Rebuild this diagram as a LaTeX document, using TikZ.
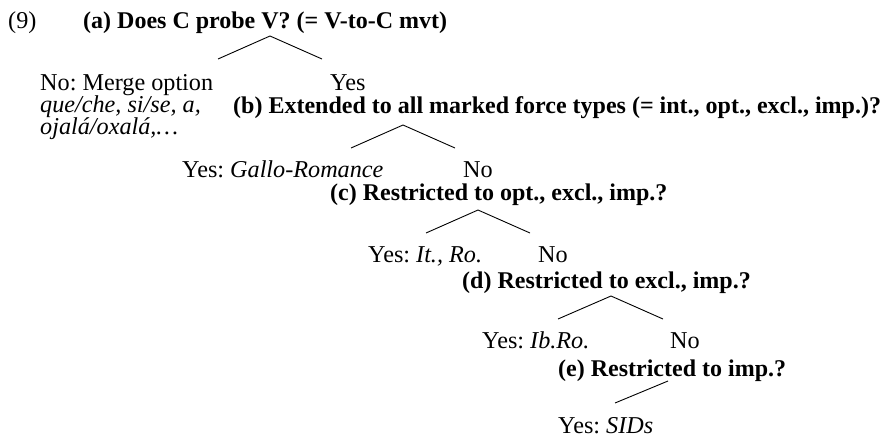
\documentclass[tikz,border=0pt]{standalone}
\usepackage{fontspec}
\setmainfont{Liberation Serif}
\frenchspacing
\begin{document}
\begin{tikzpicture}[x=1pt,y=-1pt,
  txt/.style={anchor=base west,inner sep=0pt,font=\fontsize{24.2}{22}\selectfont\frenchspacing},
  qtxt/.style={anchor=base west,inner sep=0pt,font=\fontsize{24}{22}\selectfont\bfseries\frenchspacing},
  branch/.style={line width=0.9pt}]
\useasboundingbox (0,0) rectangle (885,437);
% texts
\node[txt]  (ex)   at (8,28)    {(9)};
\node[qtxt] (qa)   at (83,28)   {(a) Does C probe V? (= V-to-C mvt)};
\node[txt]  (noA)  at (40,90.5) {No: Merge option};
\node[txt]  (noA2) at (40,112.5) {\itshape que/che, si/se, a,};
\node[txt]  (noA3) at (40,134)  {\itshape ojalá/oxalá,…};
\node[txt]  (yesA) at (330,90.5) {Yes};
\node[qtxt] (qb)   at (233,113) {(b) Extended to all marked force types (= int., opt., excl., imp.)?};
\node[txt]  (yesB) at (182,177) {Yes: \textit{Gallo-Romance}};
\node[txt]  (noB)  at (463,177) {No};
\node[qtxt] (qc)   at (330,200) {(c) Restricted to opt., excl., imp.?};
\node[txt]  (yesC) at (368,262) {Yes: \textit{It., Ro.}};
\node[txt]  (noC)  at (538,262) {No};
\node[qtxt] (qd)   at (462,288) {(d) Restricted to excl., imp.?};
\node[txt]  (yesD) at (482,348) {Yes: \textit{Ib.Ro.}};
\node[txt]  (noD)  at (670,348) {No};
\node[qtxt] (qe)   at (558,376) {(e) Restricted to imp.?};
\node[txt]  (yesE) at (558,433) {Yes: \textit{SIDs}};
% branch points
\coordinate (a-top) at (270,36);  \coordinate (a-l) at (218,59);  \coordinate (a-r) at (322,59);
\coordinate (b-top) at (403,125); \coordinate (b-l) at (351,148); \coordinate (b-r) at (455,148);
\coordinate (c-top) at (478,210); \coordinate (c-l) at (426,233); \coordinate (c-r) at (530,233);
\coordinate (d-top) at (611,296); \coordinate (d-l) at (558,319); \coordinate (d-r) at (663,319);
\coordinate (e-top) at (668,381); \coordinate (e-l) at (615,403);
% connectors
\draw[branch] (a-l) -- (a-top) -- (a-r);
\draw[branch] (b-l) -- (b-top) -- (b-r);
\draw[branch] (c-l) -- (c-top) -- (c-r);
\draw[branch] (d-l) -- (d-top) -- (d-r);
\draw[branch] (e-top) -- (e-l);
\end{tikzpicture}
\end{document}
